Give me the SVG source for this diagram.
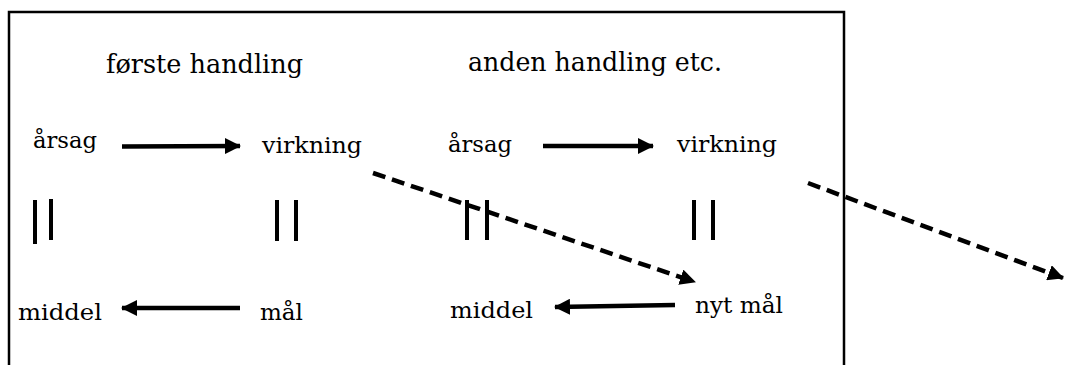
<svg xmlns="http://www.w3.org/2000/svg" width="1065" height="365" viewBox="0 0 1065 365">
<style>
  .h { font-family: 'DejaVu Serif', serif; font-size: 26px; fill: #000; }
  .t { font-family: 'DejaVu Serif', serif; font-size: 22px; fill: #000; }
  .frame { fill: none; stroke: #000; stroke-width: 2.5; }
  .eq { stroke: #000; stroke-width: 4; }
  .solid { fill: none; stroke: #000; stroke-width: 4.5; marker-end: url(#ah); }
  .dash { fill: none; stroke: #000; stroke-width: 4.5; stroke-dasharray: 13 7; marker-end: url(#ah); }
</style>
<defs>
  <marker id="ah" markerUnits="userSpaceOnUse" markerWidth="16" markerHeight="16" viewBox="0 0 16 16" refX="15" refY="8" orient="auto">
    <path d="M0,0 L16,8 L0,16 Z" fill="#000"/>
  </marker>
</defs>
<rect width="1065" height="365" fill="#fff"/>
<path class="frame" d="M9,365 V12 H844 V365"/>

<g id="header1"><text class="h" x="106" y="73" textLength="197" lengthAdjust="spacingAndGlyphs">første handling</text></g>
<g id="header2"><text class="h" x="468" y="71" textLength="254" lengthAdjust="spacingAndGlyphs">anden handling etc.</text></g>

<g id="aarsag1"><text class="t" x="33" y="148" textLength="64" lengthAdjust="spacingAndGlyphs">årsag</text></g>
<g id="virkning1"><text class="t" x="262" y="153" textLength="100" lengthAdjust="spacingAndGlyphs">virkning</text></g>
<g id="aarsag2"><text class="t" x="448" y="152" textLength="64" lengthAdjust="spacingAndGlyphs">årsag</text></g>
<g id="virkning2"><text class="t" x="677" y="152" textLength="100" lengthAdjust="spacingAndGlyphs">virkning</text></g>

<g id="middel1"><text class="t" x="18" y="320" textLength="84" lengthAdjust="spacingAndGlyphs">middel</text></g>
<g id="maal1"><text class="t" x="260" y="320" textLength="43" lengthAdjust="spacingAndGlyphs">mål</text></g>
<g id="middel2"><text class="t" x="450" y="318" textLength="83" lengthAdjust="spacingAndGlyphs">middel</text></g>
<g id="nytmaal"><text class="t" x="695" y="313" textLength="88" lengthAdjust="spacingAndGlyphs">nyt mål</text></g>

<g id="equals">
  <line class="eq" x1="35" y1="200" x2="35" y2="244"/>
  <line class="eq" x1="51" y1="199" x2="51" y2="240"/>
  <line class="eq" x1="277" y1="200" x2="277" y2="241"/>
  <line class="eq" x1="296" y1="200" x2="296" y2="241"/>
  <line class="eq" x1="467" y1="200" x2="467" y2="240"/>
  <line class="eq" x1="487" y1="200" x2="487" y2="240"/>
  <line class="eq" x1="694" y1="200" x2="694" y2="240"/>
  <line class="eq" x1="713" y1="200" x2="713" y2="240"/>
</g>

<g id="connectors">
  <line class="solid" x1="122" y1="146.5" x2="240" y2="146"/>
  <line class="solid" x1="543" y1="146" x2="653" y2="146"/>
  <line class="solid" x1="240" y1="308" x2="122" y2="308"/>
  <line class="solid" x1="675" y1="305" x2="555" y2="307"/>
  <line class="dash" x1="373" y1="173" x2="695" y2="282"/>
  <line class="dash" x1="808" y1="183" x2="1063" y2="278"/>
</g>
</svg>
